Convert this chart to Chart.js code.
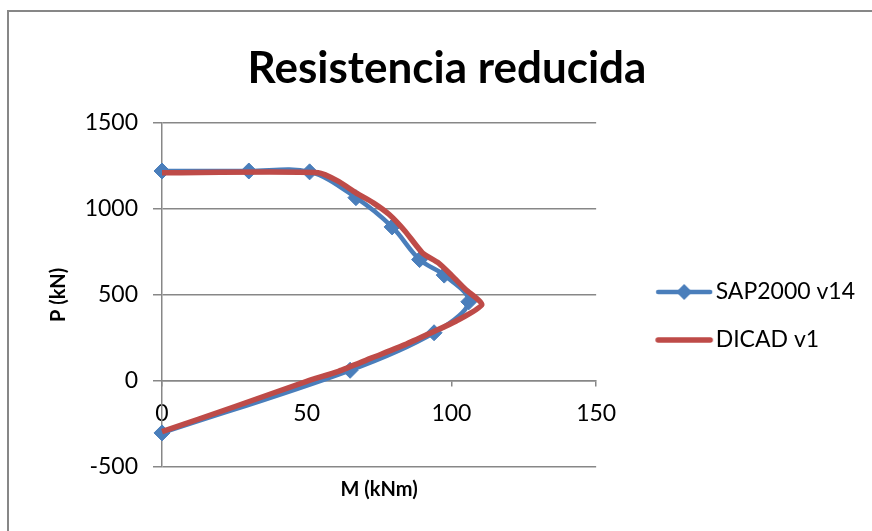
<!DOCTYPE html>
<html>
<head>
<meta charset="utf-8">
<script src="https://cdn.jsdelivr.net/npm/chart.js@4/dist/chart.umd.min.js"></script>
<style>
  html, body { margin: 0; padding: 0; background: #ffffff; }
  #wrap { position: relative; width: 872px; height: 531px; }
</style>
</head>
<body>
<div id="wrap"><canvas id="chart" width="872" height="531"></canvas></div>
<script>
// Interaction diagram: moment M (kNm) vs axial load P (kN)
const seriesNames = ['SAP2000 v14', 'DICAD v1'];

// SAP2000 v14 points
const sapM = [0, 30, 51, 67, 79.5, 89, 97.5, 106, 94, 65, 0];
const sapP = [1220, 1220, 1215, 1065, 895, 705, 615, 460, 280, 62, -302];

// DICAD v1 curve
const dicadM = [0, 54, 61, 67, 73, 78.5, 84, 90, 95.5, 100, 105, 110.5, 101.5, 93, 84, 72.5, 61, 50, 25, 0];
const dicadP = [1210, 1210, 1160, 1093, 1035, 967, 870, 744, 686, 615, 530, 444, 347, 280, 211, 134, 56, -2, -150, -295];

// axis ticks
const xTicks = [0, 50, 100, 150];
const yTicks = [-500, 0, 500, 1000, 1500];

const BLUE = '#4a7ebb';
const RED = '#be4b48';
const GRID = '#878787';
const FONT = 'Lato';

const toPoints = (xs, ys) => xs.map((x, i) => ({ x: x, y: ys[i] }));

// small legend swatches: a line, optionally with a diamond marker
function swatch(color, lineW, diamond) {
  const c = document.createElement('canvas');
  c.width = 62; c.height = 20;
  const g = c.getContext('2d');
  g.strokeStyle = color;
  g.lineWidth = lineW;
  g.lineCap = 'round';
  g.beginPath(); g.moveTo(5, 10); g.lineTo(57, 10); g.stroke();
  if (diamond) {
    g.fillStyle = color;
    g.beginPath();
    g.moveTo(31, 2); g.lineTo(39, 10); g.lineTo(31, 18); g.lineTo(23, 10); g.closePath();
    g.fill();
  }
  return c;
}
const swatches = [swatch(BLUE, 4.5, true), swatch(RED, 5.5, false)];

// outer frame of the chart
const framePlugin = {
  id: 'frame',
  beforeDraw(chart) {
    const ctx = chart.ctx;
    ctx.save();
    ctx.fillStyle = '#ffffff';
    ctx.fillRect(0, 0, chart.width, chart.height);
    ctx.strokeStyle = GRID;
    ctx.lineWidth = 2;
    ctx.strokeRect(8, 11, 900, 600);
    ctx.restore();
  }
};

Chart.defaults.font.family = FONT;
Chart.defaults.color = '#000000';

new Chart(document.getElementById('chart'), {
  type: 'scatter',
  data: {
    datasets: [
      {
        label: seriesNames[0],
        data: toPoints(sapM, sapP),
        showLine: true,
        borderColor: BLUE,
        backgroundColor: BLUE,
        borderWidth: 4.5,
        tension: 0.35,
        pointStyle: 'rectRot',
        pointRadius: 8,
        pointBorderWidth: 1,
        pointBackgroundColor: BLUE,
        pointBorderColor: BLUE,
        clip: false,
        order: 1
      },
      {
        label: seriesNames[1],
        data: toPoints(dicadM, dicadP),
        showLine: true,
        borderColor: RED,
        backgroundColor: RED,
        borderWidth: 5.5,
        tension: 0.2,
        pointRadius: 0,
        clip: false,
        order: 0
      }
    ]
  },
  options: {
    responsive: false,
    animation: false,
    events: [],
    layout: { padding: { left: 29, right: 7, top: 0, bottom: 25 } },
    plugins: {
      tooltip: { enabled: false },
      title: {
        display: true,
        text: 'Resistencia reducida',
        font: { family: FONT, size: 44, weight: 'bold' },
        color: '#000000',
        padding: { top: 42, bottom: 28 }
      },
      legend: {
        position: 'right',
        maxWidth: 300,
        title: { display: true, text: ' ', padding: 51, font: { size: 20 } },
        labels: {
          font: { family: FONT, size: 23 },
          color: '#000000',
          usePointStyle: true,
          pointStyleWidth: 40,
          boxHeight: 20,
          padding: 25,
          sort: (a, b) => a.datasetIndex - b.datasetIndex,
          generateLabels(chart) {
            const items = Chart.defaults.plugins.legend.labels.generateLabels(chart);
            items.forEach(it => { it.pointStyle = swatches[it.datasetIndex]; it.lineWidth = 0; });
            return items;
          }
        }
      }
    },
    scales: {
      x: {
        type: 'linear',
        position: { y: 0 },
        min: 0,
        max: 150,
        afterBuildTicks(s) { s.ticks = xTicks.map(v => ({ value: v })); },
        ticks: { font: { family: FONT, size: 23 }, color: '#000000', padding: 14, maxRotation: 0, callback: v => String(v) },
        grid: { drawOnChartArea: false, drawTicks: true, tickLength: 5, color: GRID, lineWidth: 1.5 },
        border: { display: true, color: GRID, width: 1.5 }
      },
      xTitle: {
        type: 'linear',
        axis: 'x',
        position: 'bottom',
        min: 0,
        max: 150,
        ticks: { display: false },
        grid: { display: false, drawTicks: false },
        border: { display: false },
        title: { display: true, text: 'M (kNm)', font: { family: FONT, size: 20, weight: 'bold' }, color: '#000000', padding: { top: 4, bottom: 4 } },
        afterFit(s) { s.height = 39; }
      },
      y: {
        type: 'linear',
        position: 'left',
        min: -500,
        max: 1500,
        afterBuildTicks(s) { s.ticks = yTicks.map(v => ({ value: v })); },
        ticks: { font: { family: FONT, size: 23 }, color: '#000000', padding: 15, callback: v => String(v) },
        grid: { color: GRID, lineWidth: 1.5, tickLength: 9 },
        border: { display: true, color: GRID, width: 1.5 },
        title: { display: true, text: 'P (kN)', font: { family: FONT, size: 20, weight: 'bold' }, color: '#000000', padding: { top: 18, bottom: 0 } },
        afterFit(s) { s.width = 133; }
      },
      yPad: {
        type: 'linear',
        axis: 'y',
        position: 'right',
        display: true,
        ticks: { display: false },
        grid: { display: false, drawTicks: false },
        border: { display: false },
        afterFit(s) { s.width = 43; }
      }
    }
  },
  plugins: [framePlugin]
});
</script>
</body>
</html>
